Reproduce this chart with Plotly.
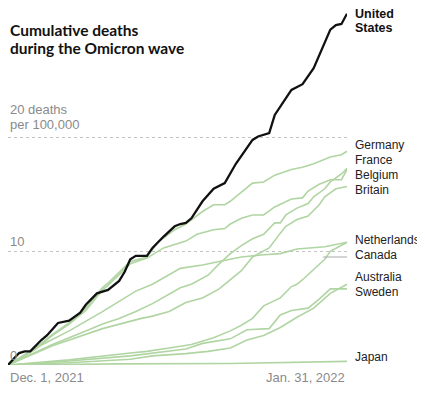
import pandas as pd
import plotly.graph_objects as go

START = pd.Timestamp("2021-12-01")
END = pd.Timestamp("2022-01-31")

# ---- data (days since Dec. 1, 2021 ; cumulative deaths per 100,000) ----
us_days = [0, 2, 3, 4, 6, 7, 9, 11, 13, 14, 16, 18, 20, 21, 22, 23, 25, 26, 28, 30, 31, 32, 33, 35, 37, 39, 41, 44, 45, 47, 48, 51, 53, 55, 58, 59, 60, 61]
us_vals = [0, 1.05, 1.2, 1.2, 2.2, 2.6, 3.7, 3.9, 4.6, 5.3, 6.3, 6.6, 7.4, 8.2, 9.3, 9.6, 9.6, 10.3, 11.3, 12.2, 12.4, 12.5, 12.9, 14.4, 15.5, 16.0, 17.7, 19.8, 20.1, 20.4, 22.0, 24.2, 24.7, 26.1, 29.5, 29.9, 30.0, 30.9]

germany_days = [0, 2, 5, 8, 11, 14, 17, 18, 22, 25, 27, 30, 32, 35, 37, 39, 40, 42, 44, 46, 48, 51, 53, 55, 58, 60, 61]
germany_vals = [0, 0.6, 1.5, 2.7, 3.7, 5.0, 6.8, 7.2, 9.1, 9.5, 10.8, 11.9, 12.4, 13.5, 14.1, 14.1, 14.4, 15.2, 16.0, 16.1, 16.7, 17.2, 17.4, 17.7, 18.3, 18.5, 18.8]

france_days = [0, 2, 5, 8, 11, 14, 17, 18, 22, 25, 28, 32, 34, 37, 39, 40, 42, 44, 46, 48, 51, 53, 54, 56, 58, 60, 61]
france_vals = [0, 0.5, 1.4, 2.6, 3.6, 4.8, 6.6, 7.0, 8.9, 9.4, 10.3, 10.9, 11.5, 11.9, 12.0, 12.4, 12.9, 13.2, 13.2, 13.9, 14.6, 14.7, 15.3, 15.9, 16.3, 16.3, 17.2]

belgium_days = [0, 8, 14, 17, 20, 23, 26, 31, 33, 36, 38, 40, 42, 44, 46, 48, 49, 50, 52, 54, 55, 57, 58, 60, 61]
belgium_vals = [0, 1.8, 3.0, 3.6, 4.1, 4.7, 5.4, 6.8, 7.1, 7.9, 8.9, 9.8, 10.5, 11.1, 11.5, 12.5, 12.5, 13.2, 13.8, 14.2, 14.8, 15.5, 16.1, 16.8, 17.3]

britain_days = [0, 8, 17, 20, 24, 26, 29, 32, 35, 38, 40, 42, 44, 47, 49, 50, 52, 54, 56, 57, 59, 61]
britain_vals = [0, 1.7, 3.2, 3.6, 4.1, 4.3, 4.7, 5.5, 5.9, 6.7, 7.5, 8.3, 9.5, 10.3, 11.6, 12.2, 12.8, 13.1, 14.1, 14.8, 15.5, 15.7]

netherlands_days = [0, 5, 11, 17, 23, 26, 31, 35, 38, 42, 46, 49, 52, 57, 61]
netherlands_vals = [0, 1.5, 3.0, 4.7, 6.5, 7.1, 8.5, 8.8, 9.1, 9.5, 9.7, 9.8, 10.2, 10.4, 10.8]

canada_days = [0, 11, 22, 25, 29, 33, 37, 40, 42, 44, 46, 49, 51, 52, 53, 55, 57, 58, 61]
canada_vals = [0, 0.45, 1.05, 1.2, 1.5, 1.8, 2.4, 3.0, 3.5, 4.1, 5.2, 5.9, 6.9, 7.1, 7.5, 8.4, 9.3, 10.0, 10.8]

sweden_days = [0, 11, 22, 26, 32, 35, 40, 43, 47, 49, 51, 54, 56, 58, 61]
sweden_vals = [0, 0.35, 0.8, 1.05, 1.4, 1.9, 2.3, 3.1, 3.2, 4.4, 4.8, 5.0, 5.8, 6.7, 6.7]

australia_days = [0, 11, 22, 26, 32, 36, 40, 43, 46, 49, 52, 55, 58, 61]
australia_vals = [0, 0.2, 0.5, 0.8, 1.0, 1.2, 1.5, 2.2, 2.6, 3.3, 4.2, 5.0, 6.3, 7.1]

japan_days = [0, 20, 40, 61]
japan_vals = [0, 0.1, 0.13, 0.32]

y_ticks = [0, 10, 20]

# ---- styling ----
GREEN = "#b0d5a2"
BLACK = "#111111"
FONT = "Liberation Sans, Arial, sans-serif"
TITLE_FONT = "Lato, Roboto, sans-serif"


def dates(days):
    return [START + pd.Timedelta(days=d) for d in days]


greens = [
    (japan_days, japan_vals),
    (australia_days, australia_vals),
    (sweden_days, sweden_vals),
    (canada_days, canada_vals),
    (netherlands_days, netherlands_vals),
    (britain_days, britain_vals),
    (belgium_days, belgium_vals),
    (france_days, france_vals),
    (germany_days, germany_vals),
]

fig = go.Figure()
for d, v in greens:
    fig.add_trace(go.Scatter(x=dates(d), y=v, mode="lines",
                             line=dict(color=GREEN, width=1.6),
                             cliponaxis=False, hoverinfo="skip"))
fig.add_trace(go.Scatter(x=dates(us_days), y=us_vals, mode="lines",
                         line=dict(color=BLACK, width=2.3),
                         cliponaxis=False, hoverinfo="skip"))

# country labels (label y in data units, positions tuned to avoid overlap)
labels = [
    ("Germany", 19.35), ("France", 18.03), ("Belgium", 16.71), ("Britain", 15.39),
    ("Netherlands", 10.99), ("Canada", 9.67), ("Australia", 7.74), ("Sweden", 6.42),
    ("Japan", 0.70),
]
ann = []
for name, yv in labels:
    ann.append(dict(x=1, xref="paper", xshift=6, y=yv, yref="y", text=name,
                    showarrow=False, xanchor="left", yanchor="middle",
                    font=dict(family=FONT, size=12, color="#222")))
for name, yv in [("United", 30.87), ("States", 29.6)]:
    ann.append(dict(x=1, xref="paper", xshift=6, y=yv, yref="y", text="<b>" + name + "</b>",
                    showarrow=False, xanchor="left", yanchor="middle",
                    font=dict(family=FONT, size=12.5, color="#111")))

# title
for txt, py in [("Cumulative deaths", 0.9476), ("during the Omicron wave", 0.899)]:
    ann.append(dict(x=0, xref="paper", y=py, yref="paper", text="<b>" + txt + "</b>",
                    showarrow=False, xanchor="left", yanchor="middle",
                    font=dict(family=TITLE_FONT, size=15.5, color="#111")))

# y tick labels
for txt, py in [("20 deaths", 0.725), ("per 100,000", 0.680), ("10", 0.351), ("0", 0.028)]:
    ann.append(dict(x=0, xref="paper", y=py, yref="paper", text=txt,
                    showarrow=False, xanchor="left", yanchor="middle",
                    font=dict(family=FONT, size=13, color="#8a8a8a")))

# x labels
ann.append(dict(x=0, xref="paper", y=-0.034, yref="paper", text="Dec. 1, 2021",
                showarrow=False, xanchor="left", yanchor="middle",
                font=dict(family=FONT, size=13, color="#8a8a8a")))
ann.append(dict(x=1, xref="paper", y=-0.034, yref="paper", text="Jan. 31, 2022",
                showarrow=False, xanchor="right", yanchor="middle",
                font=dict(family=FONT, size=13, color="#8a8a8a")))

# Canada leader line
shapes = [dict(type="line", xref="x", yref="y",
               x0=START + pd.Timedelta(days=56.7), x1=START + pd.Timedelta(days=62.3),
               y0=9.5, y1=9.5, line=dict(color="#aaaaaa", width=1))]

# page body has an 8px margin, so the figure is sized to fit inside the window
fig.update_layout(
    width=417, height=385,
    margin=dict(l=0, r=78, t=4, b=28),
    paper_bgcolor="white", plot_bgcolor="white",
    showlegend=False,
    annotations=ann,
    shapes=shapes,
    xaxis=dict(range=[START, END], visible=False, fixedrange=True),
    yaxis=dict(range=[0, 31.05], tickvals=y_ticks, showticklabels=False, ticks="",
               showgrid=True, gridcolor="#c4c4c4", griddash="dot", gridwidth=1,
               zeroline=False, showline=False, fixedrange=True),
)

fig.write_html("out.html")
